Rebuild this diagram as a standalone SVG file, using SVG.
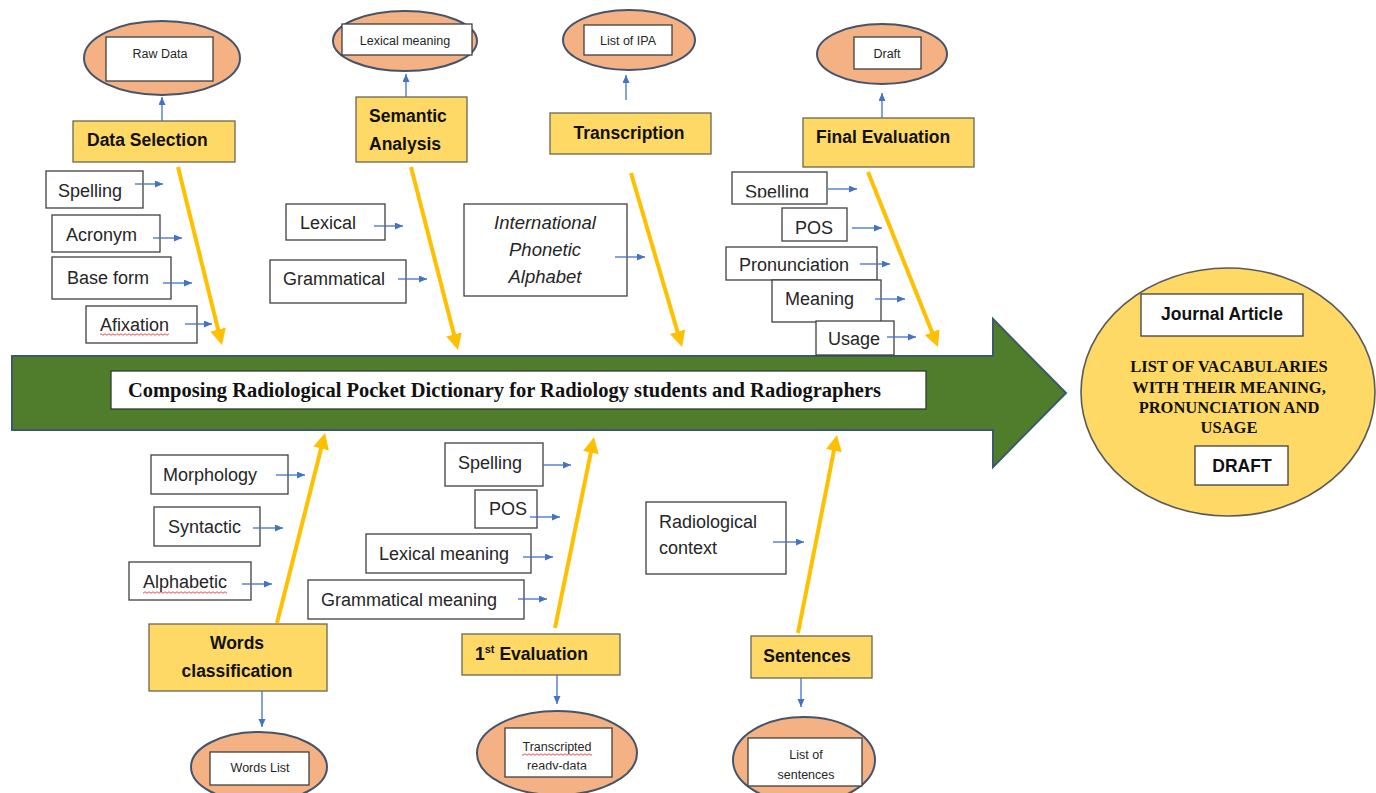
<svg xmlns="http://www.w3.org/2000/svg" width="1376" height="793" viewBox="0 0 1376 793">
<style>
.lbl{fill:#fff;stroke:#404040;stroke-width:1.3}
.ybox{fill:#FFD966;stroke:#6B6650;stroke-width:1.3}
.ell{fill:#F4B183;stroke:#44546A;stroke-width:2}
.t{font-family:"Liberation Sans",Arial,sans-serif;font-size:18px;fill:#262626}
.ti{font-family:"Liberation Sans",Arial,sans-serif;font-size:18.5px;font-style:italic;fill:#262626}
.tb{font-family:"Liberation Sans",Arial,sans-serif;font-size:17.5px;font-weight:bold;fill:#111}
.ts{font-family:"Liberation Sans",Arial,sans-serif;font-size:12.5px;fill:#262626}
.serif{font-family:"Liberation Serif","Times New Roman",serif;font-weight:bold;fill:#111}
.ya{stroke:#FFC000;stroke-width:4;fill:none;marker-end:url(#yah)}
.ba{stroke:#4472C4;stroke-width:1.3;fill:none;marker-end:url(#bah)}
.wavy{fill:url(#wv)}
</style>
<defs>
<marker id="yah" markerWidth="18" markerHeight="18" refX="2" refY="8" orient="auto" markerUnits="userSpaceOnUse"><path d="M0,0 L16,8 L0,16 z" fill="#FFC000"/></marker>
<marker id="bah" markerWidth="10" markerHeight="8" refX="8" refY="3.5" orient="auto" markerUnits="userSpaceOnUse"><path d="M0,0 L8,3.5 L0,7 z" fill="#4472C4"/></marker>
<pattern id="wv" width="4" height="3" patternUnits="userSpaceOnUse"><path d="M0,1.5 Q1,0 2,1.5 T4,1.5" stroke="#E02020" stroke-width="0.8" fill="none"/></pattern>
<clipPath id="clipSp"><rect x="732" y="172" width="95" height="25.5"/></clipPath>
<clipPath id="clipRd"><rect x="505" y="728" width="107" height="41.5"/></clipPath>
</defs>
<rect width="1376" height="793" fill="#fff"/>

<g id="spine">
<polygon points="12,356 993,356 993,319 1066,393 993,467 993,430 12,430" fill="#507D2B" stroke="#3A5A6A" stroke-width="2"/>
<rect x="111" y="371" width="815" height="38" fill="#fff" stroke="#2E3E2E" stroke-width="1.3"/>
<text class="serif" x="128" y="397" font-size="20" textLength="753" lengthAdjust="spacingAndGlyphs">Composing Radiological Pocket Dictionary for Radiology students and Radiographers</text>
</g>

<g id="result">
<ellipse cx="1228" cy="392" rx="147" ry="124" fill="#FFD966" stroke="#595959" stroke-width="1.6"/>
<rect x="1141" y="294" width="162" height="42" class="lbl"/>
<text class="tb" x="1222" y="320" text-anchor="middle">Journal Article</text>
<text class="serif" font-size="16.5" text-anchor="middle"><tspan x="1229" y="372">LIST OF VACABULARIES</tspan><tspan x="1229" y="393">WITH THEIR MEANING,</tspan><tspan x="1229" y="413">PRONUNCIATION AND</tspan><tspan x="1229" y="433">USAGE</tspan></text>
<rect x="1195" y="446" width="93" height="39" class="lbl"/>
<text class="tb" x="1242" y="472" text-anchor="middle">DRAFT</text>
</g>

<g id="raw-data">
<ellipse cx="162" cy="58" rx="78" ry="37" class="ell"/>
<rect x="106" y="37" width="107" height="44" class="lbl"/>
<text class="ts" x="160" y="58" text-anchor="middle">Raw Data</text>
</g>
<g id="data-selection">
<rect x="73" y="121" width="162" height="41" class="ybox"/>
<text class="tb" x="87" y="146">Data Selection</text>
</g>
<g id="ds-spelling"><rect x="46" y="171" width="97" height="37" class="lbl"/><text class="t" x="58" y="197">Spelling</text></g>
<g id="ds-acronym"><rect x="52" y="215" width="108" height="37" class="lbl"/><text class="t" x="66" y="241">Acronym</text></g>
<g id="ds-baseform"><rect x="52" y="257" width="119" height="42" class="lbl"/><text class="t" x="67" y="284">Base form</text></g>
<g id="ds-afixation"><rect x="86" y="306" width="111" height="37" class="lbl"/><text class="t" x="100" y="331">Afixation</text><rect x="100" y="333" width="69" height="3" class="wavy"/></g>

<g id="lexical-meaning-out">
<ellipse cx="405" cy="41" rx="72" ry="30" class="ell"/>
<rect x="342" y="24" width="130" height="31" class="lbl"/>
<text class="ts" x="405" y="45" text-anchor="middle">Lexical meaning</text>
</g>
<g id="semantic-analysis">
<rect x="356" y="97" width="111" height="65" class="ybox"/>
<text class="tb"><tspan x="369" y="122">Semantic</tspan><tspan x="369" y="150">Analysis</tspan></text>
</g>
<g id="sa-lexical"><rect x="286" y="204" width="99" height="36" class="lbl"/><text class="t" x="300" y="229">Lexical</text></g>
<g id="sa-grammatical"><rect x="270" y="260" width="136" height="43" class="lbl"/><text class="t" x="283" y="285">Grammatical</text></g>

<g id="list-ipa">
<ellipse cx="629" cy="40" rx="66" ry="30" class="ell"/>
<rect x="584" y="25" width="88" height="30" class="lbl"/>
<text class="ts" x="628" y="45" text-anchor="middle">List of IPA</text>
</g>
<g id="transcription">
<rect x="550" y="113" width="161" height="41" class="ybox"/>
<text class="tb" x="629" y="139" text-anchor="middle">Transcription</text>
</g>
<g id="tr-ipa"><rect x="464" y="204" width="163" height="92" class="lbl"/>
<text class="ti" text-anchor="middle"><tspan x="545" y="229">International</tspan><tspan x="545" y="256">Phonetic</tspan><tspan x="545" y="283">Alphabet</tspan></text></g>

<g id="draft-out">
<ellipse cx="882" cy="54" rx="65" ry="30" class="ell"/>
<rect x="854" y="37" width="67" height="32" class="lbl"/>
<text class="ts" x="887" y="58" text-anchor="middle">Draft</text>
</g>
<g id="final-evaluation">
<rect x="803" y="118" width="171" height="49" class="ybox"/>
<text class="tb" x="816" y="143">Final Evaluation</text>
</g>
<g id="fe-spelling"><rect x="732" y="172" width="95" height="32" class="lbl"/><text class="t" x="745" y="198" clip-path="url(#clipSp)">Spelling</text></g>
<g id="fe-pos"><rect x="782" y="208" width="65" height="33" class="lbl"/><text class="t" x="795" y="234">POS</text></g>
<g id="fe-pronunciation"><rect x="726" y="247" width="151" height="33" class="lbl"/><text class="t" x="739" y="271">Pronunciation</text></g>
<g id="fe-meaning"><rect x="772" y="280" width="109" height="42" class="lbl"/><text class="t" x="785" y="305">Meaning</text></g>
<g id="fe-usage"><rect x="816" y="321" width="78" height="34" class="lbl"/><text class="t" x="828" y="345">Usage</text></g>

<g id="wc-morphology"><rect x="151" y="455" width="137" height="39" class="lbl"/><text class="t" x="163" y="481">Morphology</text></g>
<g id="wc-syntactic"><rect x="154" y="507" width="106" height="39" class="lbl"/><text class="t" x="168" y="533">Syntactic</text></g>
<g id="wc-alphabetic"><rect x="129" y="562" width="122" height="38" class="lbl"/><text class="t" x="143" y="588">Alphabetic</text><rect x="143" y="591" width="84" height="3" class="wavy"/></g>
<g id="words-classification">
<rect x="149" y="624" width="178" height="67" class="ybox"/>
<text class="tb" text-anchor="middle"><tspan x="237" y="649">Words</tspan><tspan x="237" y="677">classification</tspan></text>
</g>
<g id="words-list">
<ellipse cx="259" cy="767" rx="68" ry="35" class="ell"/>
<rect x="210" y="752" width="99" height="33" class="lbl"/>
<text class="ts" x="260" y="772" text-anchor="middle">Words List</text>
</g>

<g id="ev-spelling"><rect x="445" y="443" width="98" height="43" class="lbl"/><text class="t" x="458" y="469">Spelling</text></g>
<g id="ev-pos"><rect x="475" y="490" width="62" height="38" class="lbl"/><text class="t" x="489" y="515">POS</text></g>
<g id="ev-lexical"><rect x="366" y="534" width="165" height="39" class="lbl"/><text class="t" x="379" y="560">Lexical meaning</text></g>
<g id="ev-grammatical"><rect x="308" y="580" width="216" height="39" class="lbl"/><text class="t" x="321" y="606">Grammatical meaning</text></g>
<g id="first-evaluation">
<rect x="462" y="634" width="158" height="41" class="ybox"/>
<text class="tb" x="475" y="660">1<tspan font-size="11" dy="-7">st</tspan><tspan dy="7"> Evaluation</tspan></text>
</g>
<g id="transcripted-data">
<ellipse cx="557" cy="753" rx="80" ry="42" class="ell"/>
<rect x="505" y="728" width="107" height="49" class="lbl"/>
<text class="ts" x="557" y="751" text-anchor="middle">Transcripted</text>
<rect x="522" y="753" width="70" height="3" class="wavy"/>
<text class="ts" x="557" y="770" text-anchor="middle" clip-path="url(#clipRd)">ready-data</text>
</g>

<g id="se-context"><rect x="646" y="502" width="140" height="72" class="lbl"/><text class="t"><tspan x="659" y="528">Radiological</tspan><tspan x="659" y="554">context</tspan></text></g>
<g id="sentences">
<rect x="751" y="636" width="121" height="42" class="ybox"/>
<text class="tb" x="807" y="662" text-anchor="middle">Sentences</text>
</g>
<g id="list-sentences">
<ellipse cx="804" cy="760" rx="71" ry="43" class="ell"/>
<rect x="748" y="738" width="114" height="48" class="lbl"/>
<text class="ts" text-anchor="middle"><tspan x="806" y="759">List of</tspan><tspan x="806" y="779">sentences</tspan></text>
</g>

<g id="connectors">
<line class="ya" x1="178" y1="167" x2="218.6" y2="331.4"/>
<line class="ya" x1="411" y1="167" x2="454.5" y2="336.4"/>
<line class="ya" x1="631" y1="173" x2="678.1" y2="333.6"/>
<line class="ya" x1="868" y1="172" x2="932.8" y2="334"/>
<line class="ya" x1="277" y1="623" x2="321.6" y2="446.6"/>
<line class="ya" x1="555" y1="628" x2="591.2" y2="450.7"/>
<line class="ya" x1="798" y1="633" x2="834.3" y2="448.7"/>

<line class="ba" x1="162" y1="121" x2="162" y2="97"/>
<line class="ba" x1="406" y1="97" x2="406" y2="74"/>
<line class="ba" x1="626" y1="100" x2="626" y2="75"/>
<line class="ba" x1="882" y1="118" x2="882" y2="93"/>
<line class="ba" x1="262" y1="691" x2="262" y2="727"/>
<line class="ba" x1="557" y1="675" x2="557" y2="704"/>
<line class="ba" x1="801" y1="678" x2="801" y2="707"/>

<line class="ba" x1="135" y1="184" x2="163" y2="184"/>
<line class="ba" x1="153" y1="238" x2="182" y2="238"/>
<line class="ba" x1="163" y1="283" x2="192" y2="283"/>
<line class="ba" x1="185" y1="324" x2="212" y2="324"/>
<line class="ba" x1="374" y1="226" x2="403" y2="226"/>
<line class="ba" x1="398" y1="279" x2="427" y2="279"/>
<line class="ba" x1="615" y1="257" x2="645" y2="257"/>
<line class="ba" x1="828" y1="189" x2="857" y2="189"/>
<line class="ba" x1="852" y1="228" x2="882" y2="228"/>
<line class="ba" x1="860" y1="264" x2="890" y2="264"/>
<line class="ba" x1="875" y1="299" x2="905" y2="299"/>
<line class="ba" x1="887" y1="337" x2="916" y2="337"/>
<line class="ba" x1="276" y1="475" x2="305" y2="475"/>
<line class="ba" x1="253" y1="528" x2="283" y2="528"/>
<line class="ba" x1="242" y1="584" x2="272" y2="584"/>
<line class="ba" x1="543" y1="465" x2="571" y2="465"/>
<line class="ba" x1="530" y1="517" x2="560" y2="517"/>
<line class="ba" x1="523" y1="557" x2="553" y2="557"/>
<line class="ba" x1="518" y1="599" x2="547" y2="599"/>
<line class="ba" x1="773" y1="542" x2="804" y2="542"/>
</g>
</svg>
